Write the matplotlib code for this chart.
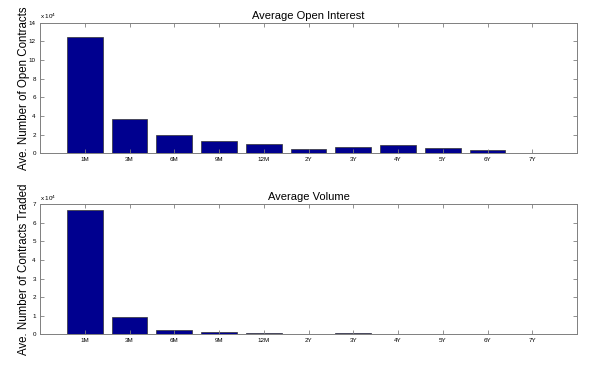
import matplotlib
matplotlib.use('Agg')
import matplotlib.pyplot as plt
from matplotlib.ticker import FuncFormatter
import numpy as np

labels = ['1M', '3M', '6M', '9M', '12M', '2Y', '3Y', '4Y', '5Y', '6Y', '7Y']
# values in units of 1e4 contracts
open_interest = [12.45, 3.72, 2.0, 1.33, 1.05, 0.5, 0.68, 0.85, 0.6, 0.35, 0.08]
volume = [6.68, 0.91, 0.21, 0.11, 0.06, 0.02, 0.05, 0.01, 0.01, 0.01, 0.01]

plt.rcParams['font.family'] = ['Liberation Sans', 'DejaVu Sans']

x = np.arange(1, len(labels) + 1)
bar_color = (0.0, 0.0, 0.56)
spine_color = '#7f7f7f'

fig = plt.figure(figsize=(6, 3.73), dpi=100)
ax1 = fig.add_axes([0.0667, 0.589, 0.895, 0.350])
ax2 = fig.add_axes([0.0667, 0.1037, 0.895, 0.349])


def style(ax, vals, ymax, title, ylabel):
    ax.bar(x, np.array(vals) * 1e4, width=0.8, color=bar_color,
           edgecolor='#333333', linewidth=0.5)
    ax.set_xlim(0, 12)
    ax.set_ylim(0, ymax * 1e4)
    ax.set_xticks(x)
    ax.set_xticklabels(labels)
    ax.set_yticks(np.arange(0, ymax + 0.01, 2 if ymax > 10 else 1) * 1e4)
    ax.yaxis.set_major_formatter(FuncFormatter(lambda v, p: '%g' % (v / 1e4)))
    ax.text(0.0, 1.01, r'x 10$^4$', transform=ax.transAxes, fontsize=4.5,
            ha='left', va='bottom')
    ax.tick_params(direction='in', top=True, right=True, labelsize=4.5,
                   length=3, width=0.6, color=spine_color, pad=3)
    for s in ax.spines.values():
        s.set_color(spine_color)
        s.set_linewidth(0.7)
    ax.set_title(title, fontsize=8, pad=3)
    ax.set_ylabel(ylabel, fontsize=8.3)
    ax.yaxis.set_label_coords(-0.018, 0.5)


style(ax1, open_interest, 14, 'Average Open Interest', 'Ave. Number of Open Contracts')
style(ax2, volume, 7, 'Average Volume', 'Ave. Number of Contracts Traded')

fig.savefig('out.png', dpi=100)
